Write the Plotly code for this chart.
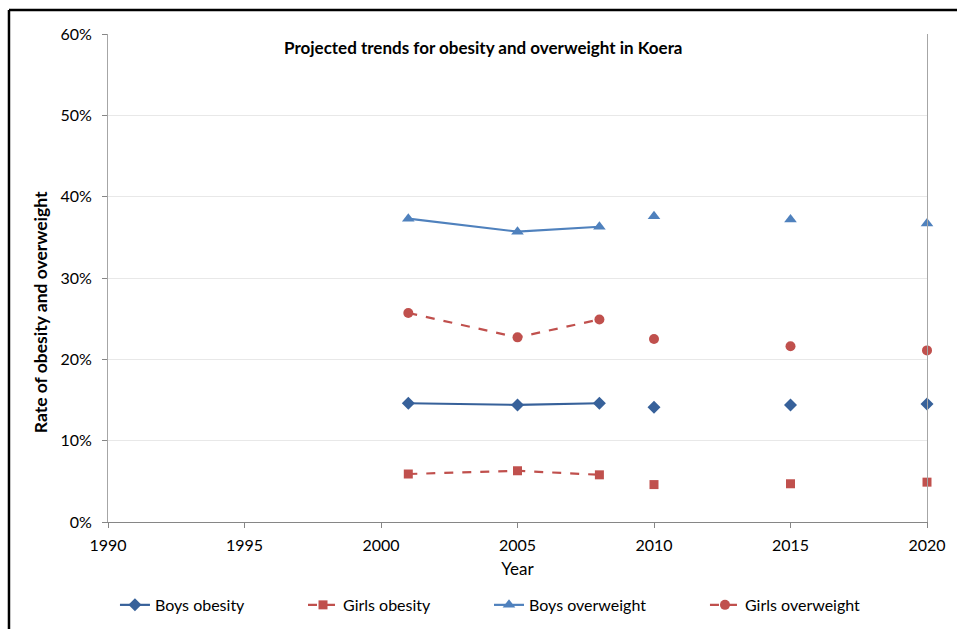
import plotly.graph_objects as go

# Survey years (joined by lines) and projection years (markers only)
years_obs = [2001, 2005, 2008]
years_proj = [2010, 2015, 2020]

boys_obesity_obs = [14.6, 14.4, 14.6]
boys_obesity_proj = [14.1, 14.4, 14.5]
girls_obesity_obs = [5.9, 6.3, 5.8]
girls_obesity_proj = [4.6, 4.7, 4.9]
boys_overweight_obs = [37.3, 35.7, 36.3]
boys_overweight_proj = [37.6, 37.2, 36.7]
girls_overweight_obs = [25.7, 22.7, 24.9]
girls_overweight_proj = [22.5, 21.6, 21.1]

y_ticks = [0, 10, 20, 30, 40, 50, 60]
y_tick_labels = ["0%", "10%", "20%", "30%", "40%", "50%", "60%"]
x_ticks = [1990, 1995, 2000, 2005, 2010, 2015, 2020]

FONT = "Lato"

series = [
    ("Boys obesity", boys_obesity_obs, boys_obesity_proj, "#37619A", "solid", "diamond", 10, "legend"),
    ("Girls obesity", girls_obesity_obs, girls_obesity_proj, "#C0504D", "dash", "square", 9, "legend2"),
    ("Boys overweight", boys_overweight_obs, boys_overweight_proj, "#4F81BD", "solid", "triangle-up", 11, "legend3"),
    ("Girls overweight", girls_overweight_obs, girls_overweight_proj, "#C0504D", "dash", "circle", 10, "legend4"),
]

fig = go.Figure()
for name, obs, proj, color, dash, symbol, size, leg in series:
    fig.add_trace(go.Scatter(
        x=years_obs, y=obs, name=name, mode="lines+markers",
        line=dict(color=color, width=2.2, dash=dash),
        marker=dict(symbol=symbol, size=size, color=color),
        legend=leg, cliponaxis=False,
    ))
    fig.add_trace(go.Scatter(
        x=years_proj, y=proj, name=name, mode="markers",
        marker=dict(symbol=symbol, size=size, color=color),
        showlegend=False, legend=leg, cliponaxis=False,
    ))

legend_x = [0.0085, 0.2381, 0.4652, 0.7289]
leg_common = dict(orientation="h", yanchor="middle", y=-0.17, xanchor="left",
                  bgcolor="rgba(0,0,0,0)", font=dict(family=FONT, size=16, color="#000"),
                  itemwidth=30)
fig.update_layout(
    legend=dict(x=legend_x[0], **leg_common),
    legend2=dict(x=legend_x[1], **leg_common),
    legend3=dict(x=legend_x[2], **leg_common),
    legend4=dict(x=legend_x[3], **leg_common),
)

fig.update_layout(
    width=957, height=629,
    margin=dict(l=108, r=30, t=34, b=107, autoexpand=False),
    paper_bgcolor="white", plot_bgcolor="white",
    font=dict(family=FONT, size=16, color="#000"),
    xaxis=dict(
        range=[1990, 2020], tickvals=x_ticks, ticks="outside", ticklen=5,
        tickcolor="#868686", showline=True, linecolor="#868686", linewidth=1,
        showgrid=False, zeroline=False, ticklabelstandoff=4, automargin=False,
        title=dict(text="Year", font=dict(family=FONT, size=17), standoff=9),
        tickfont=dict(family=FONT, size=16),
    ),
    yaxis=dict(
        range=[0, 60], tickvals=y_ticks, ticktext=y_tick_labels,
        ticks="outside", ticklen=5, tickcolor="#868686",
        showline=True, linecolor="#A6A6A6", linewidth=1, mirror=True,
        showgrid=True, gridcolor="#E8E8E8", gridwidth=1, zeroline=False,
        ticklabelstandoff=7, automargin=False,
        tickfont=dict(family=FONT, size=16),
    ),
    annotations=[
        dict(
            text="<b>Projected trends for obesity and overweight in Koera</b>",
            xref="paper", yref="paper", x=0.459, y=0.973, xanchor="center", yanchor="middle",
            showarrow=False, font=dict(family=FONT, size=17, color="#000"),
        ),
        dict(
            text="<b>Rate of obesity and overweight</b>",
            xref="paper", yref="paper", x=-0.083, y=0.430, xanchor="center", yanchor="middle",
            textangle=-90, showarrow=False, font=dict(family=FONT, size=17.5, color="#000"),
        ),
    ],
    shapes=[
        dict(type="line", xref="paper", yref="paper", x0=-0.1209, y0=1.0492, x1=1.1, y1=1.0492,
             line=dict(color="black", width=2.5)),
        dict(type="line", xref="paper", yref="paper", x0=-0.1209, y0=1.0492, x1=-0.1209, y1=-0.3,
             line=dict(color="black", width=2.5)),
    ],
)

fig.write_html("out.html")
